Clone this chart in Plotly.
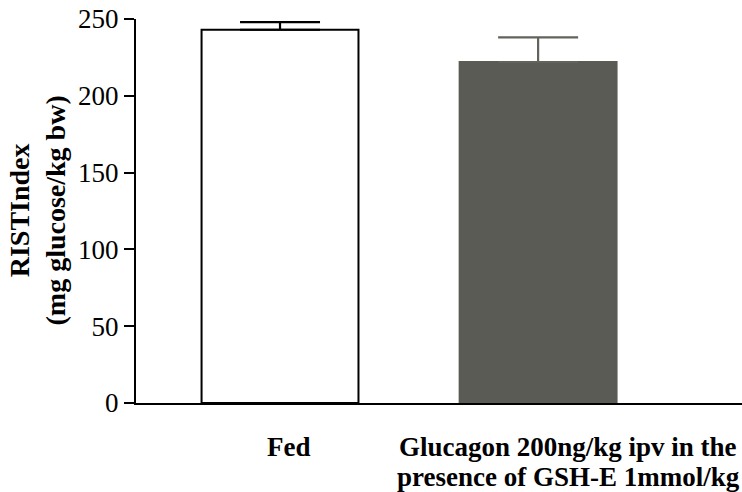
import plotly.graph_objects as go

categories = ["Fed", "Glucagon 200ng/kg ipv in the<br>presence of GSH-E 1mmol/kg"]
values = [243, 222]
errors_plus = [5, 16]
fills = ["#ffffff", "#5a5b55"]
edges = ["#000000", "#5a5b55"]
err_colors = ["#000000", "#62635d"]
label_shift = [9, 30]

xpos = list(range(len(categories)))

fig = go.Figure()
for i in range(len(categories)):
    fig.add_trace(go.Bar(
        x=[xpos[i]], y=[values[i]],
        width=0.608,
        marker=dict(color=fills[i], line=dict(color=edges[i], width=2)),
        error_y=dict(type="data", symmetric=False, array=[errors_plus[i]],
                     arrayminus=[0], color=err_colors[i], thickness=2.2, width=40),
        showlegend=False,
    ))

line_gap = 30
for i, c in enumerate(categories):
    for j, line in enumerate(c.split("<br>")):
        fig.add_annotation(
            x=xpos[i], y=0, xref="x", yref="paper", yanchor="top", xanchor="center",
            xshift=label_shift[i], yshift=-27 - j * line_gap, showarrow=False,
            text="<b>" + line + "</b>",
            font=dict(family="Liberation Serif", size=27, color="#000000"),
        )

fig.add_annotation(
    x=0, y=0.5, xref="paper", yref="paper", xanchor="right", yanchor="middle",
    xshift=-64, showarrow=False, textangle=-90, align="center",
    text="<b>RISTIndex</b><br><b>(mg glucose/kg bw)</b>",
    font=dict(family="Liberation Serif", size=28, color="#000000"),
)

fig.update_layout(
    width=742, height=492,
    margin=dict(l=136, r=0, t=19, b=89, autoexpand=False),
    paper_bgcolor="#ffffff", plot_bgcolor="#ffffff",
    barmode="overlay",
    xaxis=dict(range=[-0.558, 1.79], showticklabels=False, ticks="",
               showgrid=False, zeroline=False, showline=True, automargin=False,
               linecolor="#000000", linewidth=2),
    yaxis=dict(range=[0, 250], tickvals=[0, 50, 100, 150, 200, 250],
               ticks="outside", ticklen=10, tickwidth=2, tickcolor="#000000",
               showgrid=False, zeroline=False, showline=True, automargin=False,
               linecolor="#000000", linewidth=2,
               tickfont=dict(family="Liberation Serif", size=27, color="#000000")),
)

fig.write_html("out.html", config={"displayModeBar": False},
               post_script="document.body.style.margin='0';document.body.style.overflow='hidden';")
